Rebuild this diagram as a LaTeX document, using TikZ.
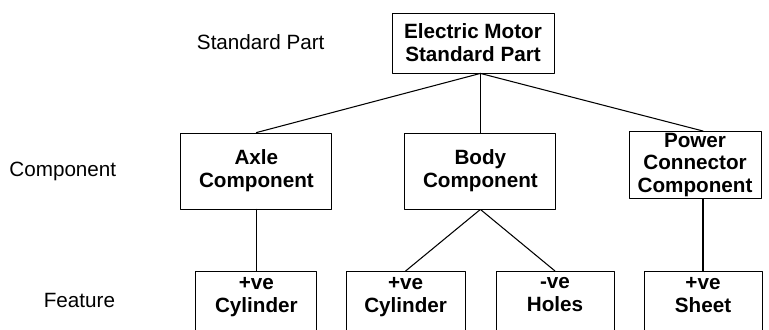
\documentclass[tikz,border=0pt]{standalone}
\usepackage{fontspec}
\setmainfont{Liberation Sans}
\usetikzlibrary{positioning, calc}

\begin{document}
\begin{tikzpicture}[x=1cm, y=1cm, line cap=round, line join=round,
    wire/.style={line width=0.75pt},
    box/.style={draw, line width=0.6pt, align=center, inner sep=1pt,
      font=\fontsize{14.7}{16.3}\selectfont\bfseries},
    featbox/.style={box, anchor=north, inner ysep=4pt,
      execute at end node={\rule[-0.7cm]{0pt}{0pt}}},
    lbl/.style={font=\fontsize{14.7}{16.3}\selectfont}]
  \useasboundingbox (0,0) rectangle (19.225,-8.225);
  \clip (0,0) rectangle (19.225,-8.225);
  % level names
  \node[lbl, anchor=west] (lvlpart) at (4.8,-1.05) {Standard Part};
  \node[lbl, anchor=east] (lvlcomp) at (3.03,-4.275) {Component};
  \node[lbl, anchor=east] (lvlfeat) at (3.0,-7.5) {Feature};
  % part
  \node[box, minimum width=4.05cm, minimum height=1.5cm] (motor)
      at (11.825,-1.075) {Electric Motor\\Standard Part};
  % components
  \node[box, minimum width=3.775cm, minimum height=1.9cm] (axle)
      at (6.41,-4.275) {Axle\\Component};
  \node[box, minimum width=3.775cm, minimum height=1.9cm] (body)
      at (12.01,-4.275) {Body\\Component};
  \node[box, minimum width=3.3cm, minimum height=1.65cm] (power)
      at (17.375,-4.125) {Power\\Connector\\Component};
  % features
  \node[featbox, minimum width=3.025cm] (axlecyl) at (6.41,-6.775) {+ve\\Cylinder};
  \node[featbox, minimum width=2.975cm] (bodycyl) at (10.14,-6.775) {+ve\\Cylinder};
  \node[featbox, minimum width=2.95cm] (bodyholes) at (13.875,-6.775) {-ve\\Holes};
  \node[featbox, minimum width=2.95cm] (sheet) at (17.575,-6.775) {+ve\\Sheet};
  \coordinate (hub) at (motor.south -| body.north);
  \draw[wire] (hub) -- (axle.north);
  \draw[wire] (hub) -- (body.north);
  \draw[wire] (hub) -- (power.north -| sheet.north);
  \draw[wire] (axle.south) -- (axlecyl.north);
  \draw[wire] (body.south) -- (bodycyl.north);
  \draw[wire] (body.south) -- (bodyholes.north);
  \draw[wire] (power.south -| sheet.north) -- (sheet.north);
\end{tikzpicture}
\end{document}
